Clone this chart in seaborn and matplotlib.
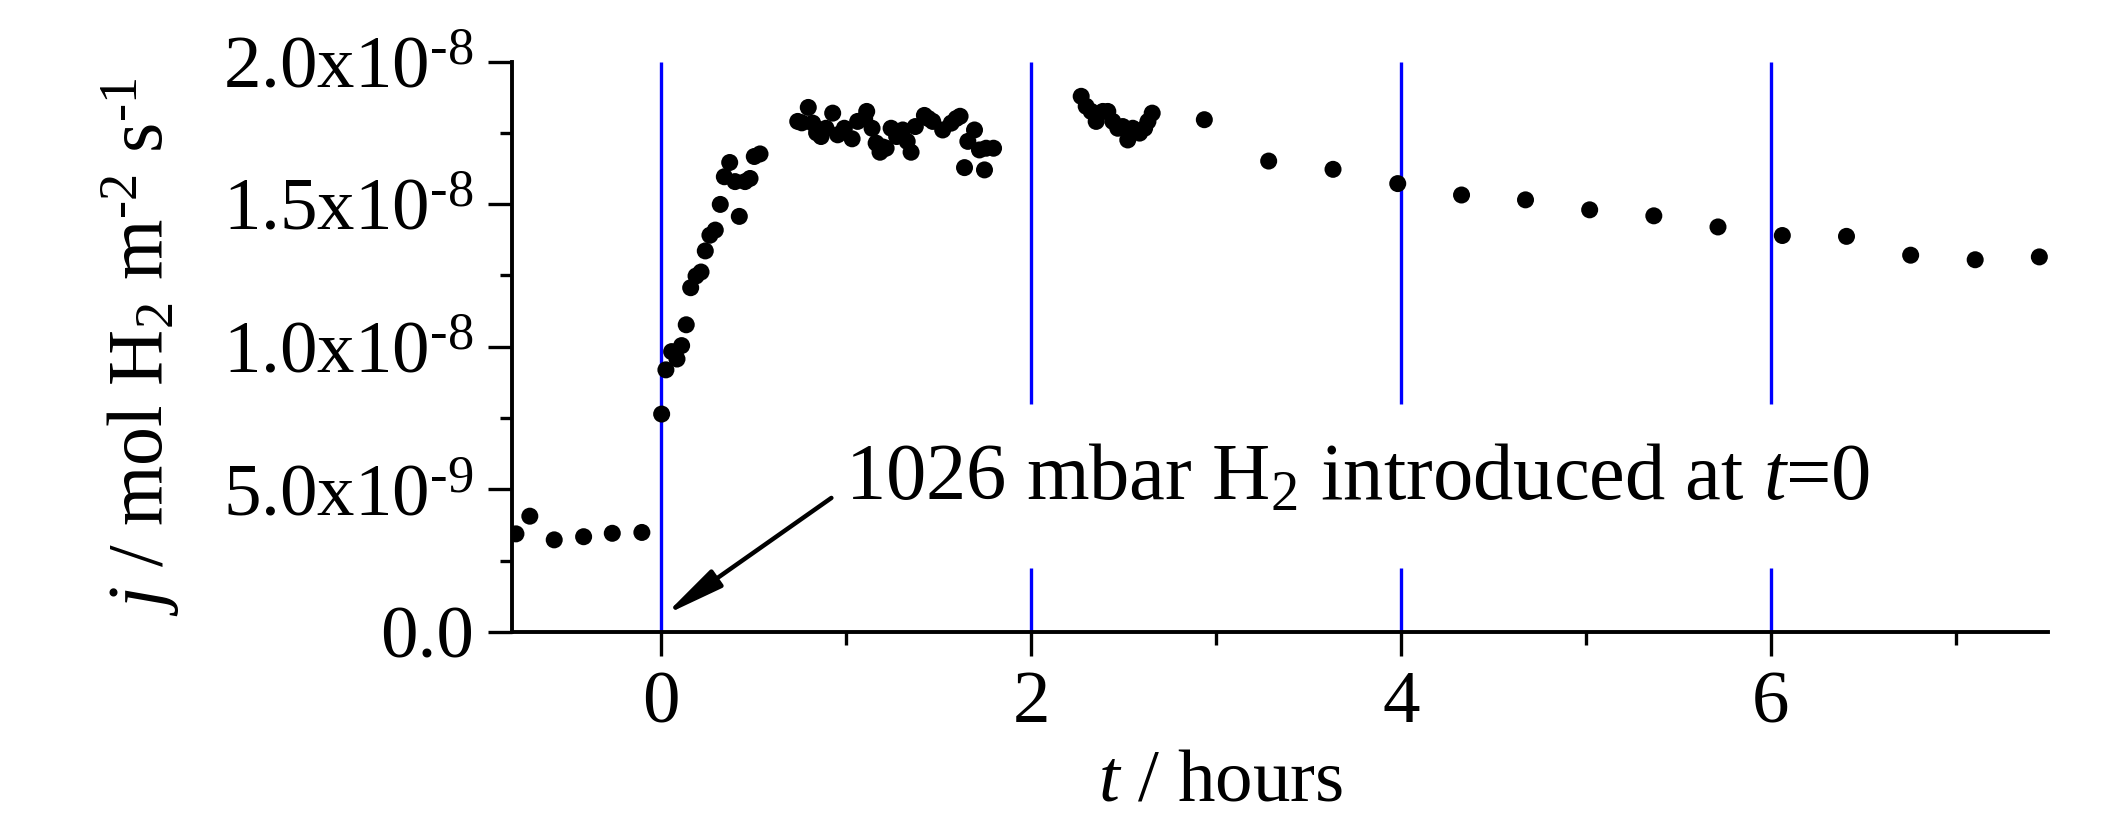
import numpy as np
import pandas as pd
import matplotlib
matplotlib.use("Agg")
import matplotlib.pyplot as plt
from matplotlib.ticker import FixedLocator, FixedFormatter
import seaborn as sns

# ---------------- data ----------------
t_hours = [-0.786, -0.711, -0.579, -0.420, -0.265, -0.105,
           0.002, 0.025, 0.056, 0.085, 0.110, 0.135, 0.159, 0.188, 0.215, 0.238,
           0.263, 0.292, 0.319, 0.341, 0.370, 0.399, 0.422, 0.453, 0.480, 0.503, 0.534,
           0.738, 0.760, 0.795, 0.819, 0.840, 0.864, 0.891, 0.927, 0.954, 0.990,
           1.032, 1.062, 1.100, 1.111, 1.140, 1.162, 1.183, 1.200, 1.216, 1.243,
           1.273, 1.306, 1.330, 1.351, 1.374, 1.423, 1.445, 1.468, 1.522, 1.568,
           1.595, 1.616, 1.640, 1.658, 1.694, 1.721, 1.748, 1.757, 1.797,
           2.271, 2.298, 2.325, 2.352, 2.388, 2.415, 2.442, 2.469, 2.496, 2.523,
           2.550, 2.587, 2.614, 2.632, 2.655,
           2.937, 3.285, 3.633, 3.983, 4.328, 4.674, 5.021, 5.368, 5.715, 6.063,
           6.410, 6.757, 7.106, 7.453]
# flux in units of 1e-9 mol H2 m^-2 s^-1
j_nano = [3.44, 4.06, 3.23, 3.34, 3.46, 3.49,
          7.64, 9.19, 9.83, 9.57, 10.04, 10.77, 12.07, 12.48, 12.62, 13.36,
          13.91, 14.09, 14.99, 15.96, 16.46, 15.79, 14.57, 15.79, 15.90, 16.67, 16.76,
          17.90, 17.85, 18.39, 17.84, 17.50, 17.37, 17.66, 18.19, 17.43, 17.66,
          17.29, 17.90, 18.00, 18.25, 17.66, 17.14, 16.82, 17.00, 16.96, 17.66,
          17.37, 17.60, 17.20, 16.82, 17.72, 18.11, 18.00, 17.90, 17.60, 17.84,
          18.00, 18.08, 16.28, 17.20, 17.60, 16.90, 16.20, 16.96, 16.96,
          18.78, 18.43, 18.25, 17.90, 18.25, 18.25, 17.90, 17.66, 17.72, 17.25,
          17.66, 17.49, 17.66, 17.90, 18.19,
          17.96, 16.51, 16.22, 15.72, 15.32, 15.15, 14.80, 14.59, 14.20, 13.90,
          13.87, 13.21, 13.05, 13.15]

marker_times = [0, 2, 4, 6]          # blue vertical markers
gap_low, gap_high = 2.24e-9, 8.0e-9  # gap in markers at t = 2, 4, 6

x_major = [0, 2, 4, 6]
x_minor = [1, 3, 5, 7]
y_major = [0.0, 5.0e-9, 1.0e-8, 1.5e-8, 2.0e-8]
y_minor = [2.5e-9, 7.5e-9, 1.25e-8, 1.75e-8]
y_tick_labels = ["0.0",
                 r"5.0x10$^{\text{-9}}$",
                 r"1.0x10$^{\text{-8}}$",
                 r"1.5x10$^{\text{-8}}$",
                 r"2.0x10$^{\text{-8}}$"]

annot_text = r"1026 mbar H$_2$ introduced at $t$=0"
annot_head = (0.02, 0.6e-9)
annot_tail = (0.92, 4.7e-9)
annot_pos = (0.995, 4.63e-9)

# ---------------- style ----------------
sns.set_theme(style="ticks")
plt.rcParams["font.family"] = ["Liberation Serif", "DejaVu Serif"]
plt.rcParams["mathtext.fontset"] = "custom"
plt.rcParams["mathtext.rm"] = "Liberation Serif"
plt.rcParams["mathtext.it"] = "Liberation Serif:italic"
plt.rcParams["mathtext.bf"] = "Liberation Serif:bold"

fig = plt.figure(figsize=(21.21, 8.18), dpi=100)
ax = fig.add_axes([0.2416, 0.2274, 0.9656 - 0.2416, 0.9248 - 0.2274])

df = pd.DataFrame({"t": t_hours, "j": np.array(j_nano) * 1e-9})

xlim = (-0.805, 7.5)
ylim = (0.0, 2.0e-8)

# blue vertical markers
for tm in marker_times:
    if tm == 0:
        ax.vlines(tm, ylim[0], ylim[1], colors="#0000FF", lw=2.4, zorder=1)
    else:
        ax.vlines(tm, ylim[0], gap_low, colors="#0000FF", lw=2.4, zorder=1)
        ax.vlines(tm, gap_high, ylim[1], colors="#0000FF", lw=2.4, zorder=1)

sns.scatterplot(data=df, x="t", y="j", ax=ax, s=150, color="black",
                edgecolor="none", linewidth=0, zorder=3, legend=False)

ax.set_xlim(*xlim)
ax.set_ylim(*ylim)

ax.xaxis.set_major_locator(FixedLocator(x_major))
ax.xaxis.set_minor_locator(FixedLocator(x_minor))
ax.yaxis.set_major_locator(FixedLocator(y_major))
ax.yaxis.set_minor_locator(FixedLocator(y_minor))
ax.yaxis.set_major_formatter(FixedFormatter(y_tick_labels))

for side in ["top", "right"]:
    ax.spines[side].set_visible(False)
for side in ["left", "bottom"]:
    ax.spines[side].set_linewidth(2.8)
    ax.spines[side].set_color("black")

ax.tick_params(axis="both", which="major", direction="out", length=17, width=2.4,
               color="black", labelsize=54, labelcolor="black")
ax.tick_params(axis="both", which="minor", direction="out", length=9, width=2.4,
               color="black")
ax.tick_params(axis="y", which="major", pad=11)
ax.tick_params(axis="x", which="major", pad=11)

ax.set_xlabel(r"$t$ / hours", fontsize=54, color="black")
ax.set_ylabel(r"$j$ / mol H$_2$ m$^{\text{-2}}$ s$^{\text{-1}}$", fontsize=56, color="black")
ax.xaxis.set_label_coords(0.461, -0.205)
ax.yaxis.set_label_coords(-0.215, 0.5)

ax.annotate("", xy=annot_head, xytext=annot_tail,
            arrowprops=dict(arrowstyle="-|>,head_length=0.8,head_width=0.14",
                            color="black", lw=3.2,
                            mutation_scale=45, shrinkA=0, shrinkB=0))
ax.text(annot_pos[0], annot_pos[1], annot_text, fontsize=58, ha="left",
        va="baseline", color="black")

ax.set_facecolor("white")
fig.patch.set_facecolor("white")
fig.savefig("out.png", dpi=100, facecolor="white")
